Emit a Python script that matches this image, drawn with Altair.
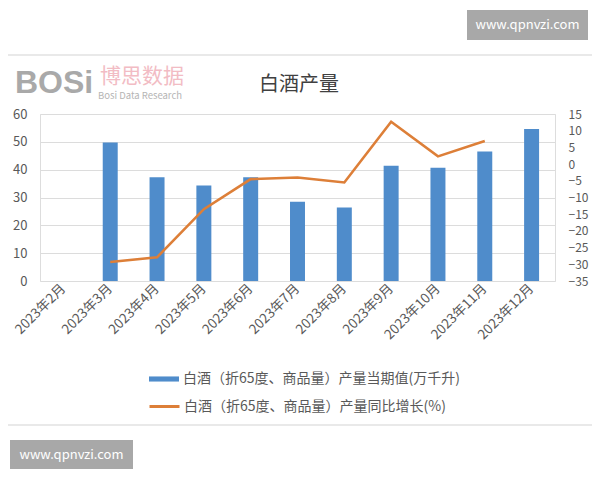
import altair as alt
import pandas as pd

# ---------------- data ----------------
months = ["2023年2月", "2023年3月", "2023年4月", "2023年5月", "2023年6月", "2023年7月",
          "2023年8月", "2023年9月", "2023年10月", "2023年11月", "2023年12月"]
production = [None, 49.8, 37.3, 34.3, 37.3, 28.5, 26.4, 41.4, 40.7, 46.5, 54.6]
growth = [None, -29.3, -27.9, -13.5, -4.5, -4.0, -5.5, 12.7, 2.3, 6.9, None]
left_ticks = [0, 10, 20, 30, 40, 50, 60]
right_ticks = [-35, -30, -25, -20, -15, -10, -5, 0, 5, 10, 15]

bar_label = "白酒（折65度、商品量）产量当期值(万千升)"
line_label = "白酒（折65度、商品量）产量同比增长(%)"
title_text = "白酒产量"
site_text = "www.qpnvzi.com"
logo_text = "BOSi"
logo_cn = "博思数据"
logo_en = "Bosi Data Research"

FONT = "Noto Sans CJK SC"
LABEL = "#595959"

df = pd.DataFrame({
    "month": months,
    "production": production,
    "growth": growth,
    "bar_series": [bar_label] * len(months),
    "line_series": [line_label] * len(months),
})
one = pd.DataFrame({"site": [site_text], "title": [title_text], "logo": [logo_text],
                    "logo_cn": [logo_cn], "logo_en": [logo_en]})

xscale = alt.Scale(type="band", domain=months, paddingInner=0.68, paddingOuter=0.34)
xaxis = alt.Axis(title=None, labelAngle=-45, labelAlign="right", labelBaseline="middle",
                 labelPadding=5, ticks=False, domain=False, labelFontSize=13.5,
                 labelColor=LABEL, labelFont=FONT)

base = alt.Chart(df)

bars = base.mark_bar().encode(
    x=alt.X("month:N", sort=months, scale=xscale, axis=xaxis),
    y=alt.Y("production:Q", scale=alt.Scale(domain=[0, 60], nice=False),
            axis=alt.Axis(title=None, values=left_ticks, grid=True, gridColor="#dcdcdc",
                          domain=False, ticks=False, labelPadding=13, labelFontSize=13,
                          labelColor=LABEL, labelFont=FONT)),
    color=alt.Color("bar_series:N", scale=alt.Scale(domain=[bar_label], range=["#4f8ccb"]),
                    legend=alt.Legend(title=None, orient="none", legendX=108, legendY=249,
                                      symbolType="M-1,-0.17H1V0.17H-1Z", symbolSize=900,
                                      symbolOpacity=1, labelFontSize=14, labelColor=LABEL,
                                      labelFont=FONT, labelOffset=3, padding=0, labelLimit=500)),
)

line = base.mark_line(strokeWidth=2.6).encode(
    x=alt.X("month:N", sort=months, scale=xscale, axis=xaxis),
    y=alt.Y("growth:Q", scale=alt.Scale(domain=[-35, 15], nice=False, zero=False),
            axis=alt.Axis(title=None, orient="right", values=right_ticks, grid=False,
                          domain=False, ticks=False, labelOverlap=False, labelPadding=13,
                          labelFontSize=12, labelColor=LABEL, labelFont=FONT)),
    stroke=alt.Stroke("line_series:N", scale=alt.Scale(domain=[line_label], range=["#dd7f38"]),
                      legend=alt.Legend(title=None, orient="none", legendX=108, legendY=276,
                                        symbolType="stroke", symbolSize=900, symbolStrokeWidth=3,
                                        labelFontSize=14, labelColor=LABEL, labelFont=FONT,
                                        labelOffset=3, padding=0, labelLimit=500)),
)

dec = alt.Chart(one)
frame = dec.mark_rect(fillOpacity=0, stroke="#e2e2e2", strokeWidth=1.5).encode(
    x=alt.value(-37), x2=alt.value(556), y=alt.value(-59), y2=alt.value(311))
box1 = dec.mark_rect(color="#a8a8a8").encode(
    x=alt.value(427), x2=alt.value(548), y=alt.value(-104), y2=alt.value(-74))
box2 = dec.mark_rect(color="#a8a8a8").encode(
    x=alt.value(-30), x2=alt.value(93), y=alt.value(326), y2=alt.value(355))
site1 = dec.mark_text(align="center", baseline="middle", fontSize=13, color="white", font=FONT).encode(
    x=alt.value(487.5), y=alt.value(-89), text="site:N")
site2 = dec.mark_text(align="center", baseline="middle", fontSize=13, color="white", font=FONT).encode(
    x=alt.value(31.5), y=alt.value(340.5), text="site:N")
title = dec.mark_text(align="center", baseline="middle", fontSize=20, color="#404040", font=FONT).encode(
    x=alt.value(259), y=alt.value(-29), text="title:N")
logo = dec.mark_text(align="left", baseline="alphabetic", fontSize=32, fontWeight="bold",
                     color="#a9a9a9", font="Liberation Sans").encode(
    x=alt.value(-25), y=alt.value(-21), text="logo:N")
logo2 = dec.mark_text(align="left", baseline="alphabetic", fontSize=21, color="#f2bcc4", font=FONT).encode(
    x=alt.value(60), y=alt.value(-31), text="logo_cn:N")
logo3 = dec.mark_text(align="left", baseline="alphabetic", fontSize=9.5, color="#b5b5b5", font=FONT).encode(
    x=alt.value(58), y=alt.value(-15), text="logo_en:N")

chart = alt.layer(frame, bars, line, box1, box2, site1, site2, title, logo, logo2, logo3).resolve_scale(
    y="independent", color="independent", stroke="independent"
).properties(
    width=515, height=167, autosize="none",
    padding={"left": 32, "top": 106, "right": 37, "bottom": 191},
).configure_view(stroke=None).configure(background="white")

chart.save("out.html", embed_options={"renderer": "svg", "actions": False})
